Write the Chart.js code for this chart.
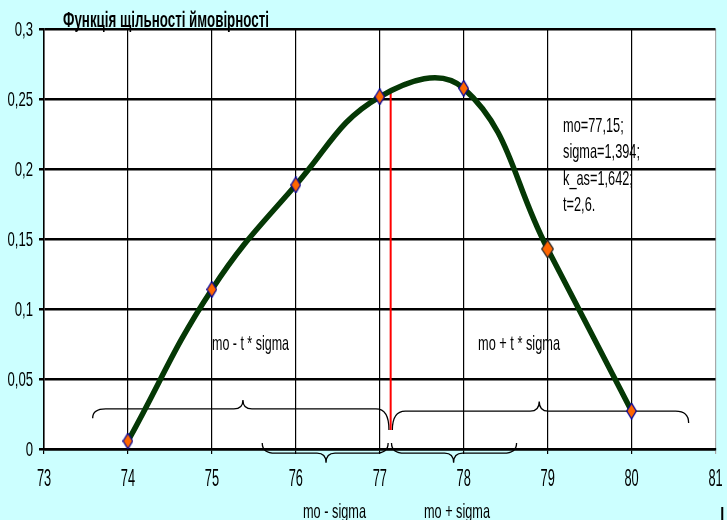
<!DOCTYPE html>
<html><head><meta charset="utf-8">
<script src="https://cdn.jsdelivr.net/npm/chart.js@4.4.0/dist/chart.umd.min.js"></script>
<style>html,body{margin:0;padding:0;background:#ccffff;}canvas{display:block;}</style>
</head><body>
<canvas id="c" width="727" height="520"></canvas>
<script>
// ---- data ----
const xCategories = [74, 75, 76, 77, 78, 79, 80];
const densityValues = [0.0057, 0.114, 0.1886, 0.2516, 0.2576, 0.1429, 0.0271];
const modeLineX = [77.13, 77.13];
const modeLineY = [0.257, 0.0136];
const xTickValues = [73, 74, 75, 76, 77, 78, 79, 80, 81];
const xTickLabels = ['73', '74', '75', '76', '77', '78', '79', '80', '81'];
const yTickValues = [0, 0.05, 0.1, 0.15, 0.2, 0.25, 0.3];
const yTickLabels = ['0', '0,05', '0,1', '0,15', '0,2', '0,25', '0,3'];
const titleText = 'Функція щільності ймовірності';
const paramLines = ['mo=77,15;', 'sigma=1,394;', 'k_as=1,642;', 't=2,6.'];
const innerLabels = ['mo - t * sigma', 'mo + t * sigma'];
const outerLabels = ['mo - sigma', 'mo + sigma'];
// braces (data units): start, end, tip x, line level, tip level, end levels
const braceStart = [73.58, 77.15, 75.6, 77.14];
const braceEnd   = [77.11, 80.68, 77.1, 78.63];
const braceTip   = [75.37, 78.9, 76.36, 77.88];
const braceLine  = [0.0286, 0.0271, -0.003, -0.003];
const braceTipY  = [0.035, 0.034, -0.0098, -0.0098];
const braceEndA  = [0.022, 0.0136, 0.0043, 0.0043];
const braceEndB  = [0.0136, 0.0186, 0.0043, 0.0043];

function makeDiamond(w, h, fill, stroke) {
  const c = document.createElement('canvas');
  c.width = w; c.height = h;
  const g = c.getContext('2d');
  g.beginPath();
  g.moveTo(w / 2, 0.7); g.lineTo(w - 0.7, h / 2); g.lineTo(w / 2, h - 0.7); g.lineTo(0.7, h / 2);
  g.closePath();
  g.fillStyle = fill; g.fill();
  g.lineWidth = 1.3; g.strokeStyle = stroke; g.stroke();
  return c;
}
const dia = makeDiamond(11, 17, '#ff6600', '#000099');
const diaBig = makeDiamond(13, 19, '#ff6600', '#222222');
const pointStyles = xCategories.map((v, i) => i === 5 ? diaBig : dia);

function drawStretched(ctx, text, x, y, o) {
  ctx.save();
  ctx.font = o.font;
  let sx = o.sx || 1;
  if (o.width) sx = o.width / ctx.measureText(text).width;
  ctx.translate(x, y);
  ctx.scale(sx, o.sy || 1);
  ctx.textAlign = o.align || 'left';
  ctx.textBaseline = 'alphabetic';
  ctx.fillStyle = o.color || '#000';
  ctx.fillText(text, 0, 0);
  ctx.restore();
}

const decor = {
  id: 'decor',
  beforeDraw(chart) {
    const { ctx, chartArea: a } = chart;
    ctx.save();
    ctx.fillStyle = '#ccffff';
    ctx.fillRect(0, 0, chart.width, chart.height);
    ctx.fillStyle = '#ffffff';
    ctx.fillRect(a.left, a.top, a.right - a.left, a.bottom - a.top);
    ctx.restore();
  },
  beforeDatasetsDraw(chart) {
    const { ctx } = chart;
    const xs = chart.scales.x, ys = chart.scales.y;
    ctx.save();
    ctx.strokeStyle = '#000';
    ctx.lineWidth = 1.3;
    for (let i = 0; i < braceStart.length; i++) {
      const x0 = xs.getPixelForValue(braceStart[i]);
      const x1 = xs.getPixelForValue(braceEnd[i]);
      const xt = xs.getPixelForValue(braceTip[i]);
      const yl = ys.getPixelForValue(braceLine[i]);
      const yt = ys.getPixelForValue(braceTipY[i]);
      const ya = ys.getPixelForValue(braceEndA[i]);
      const yb = ys.getPixelForValue(braceEndB[i]);
      const r = 13, rt = 9;
      ctx.beginPath();
      ctx.moveTo(x0, ya);
      ctx.quadraticCurveTo(x0, yl, x0 + r, yl);
      ctx.lineTo(xt - rt, yl);
      ctx.quadraticCurveTo(xt, yl, xt, yt);
      ctx.quadraticCurveTo(xt, yl, xt + rt, yl);
      ctx.lineTo(x1 - r, yl);
      ctx.quadraticCurveTo(x1, yl, x1, yb);
      ctx.stroke();
    }
    ctx.restore();
  },
  afterDraw(chart) {
    const { ctx } = chart;
    const xs = chart.scales.x, ys = chart.scales.y;
    const f = '16px "Liberation Sans", Arial, sans-serif';
    xs.ticks.forEach(t => {
      drawStretched(ctx, t.label, xs.getPixelForValue(t.value), 486, { font: f, sx: 0.8, sy: 1.52, align: 'center' });
    });
    ys.ticks.forEach(t => {
      drawStretched(ctx, t.label, 33, ys.getPixelForValue(t.value) + 7, { font: f, sx: 0.82, sy: 1.25, align: 'right' });
    });
    drawStretched(ctx, titleText, 63, 27, { font: 'bold 16px "Liberation Sans", Arial, sans-serif', width: 206, sy: 1.36 });
    // parameter box
    ctx.save(); ctx.font = f;
    const sxP = 77 / ctx.measureText(paramLines[1]).width;
    ctx.restore();
    const baselines = [132, 158, 185, 211];
    paramLines.forEach((s, i) => drawStretched(ctx, s, 563, baselines[i], { font: f, sx: sxP, sy: 1.3 }));
    drawStretched(ctx, innerLabels[0], 212, 350, { font: f, width: 77, sy: 1.32 });
    drawStretched(ctx, innerLabels[1], 478, 350, { font: f, width: 82, sy: 1.32 });
    drawStretched(ctx, outerLabels[0], 303, 518, { font: f, width: 63, sy: 1.32 });
    drawStretched(ctx, outerLabels[1], 424, 518, { font: f, width: 66, sy: 1.32 });
    drawStretched(ctx, '|', 720, 520, { font: 'bold 16px "Liberation Sans", Arial, sans-serif', sy: 1.2 });
  }
};

new Chart(document.getElementById('c'), {
  type: 'line',
  data: {
    datasets: [
      {
        data: xCategories.map((x, i) => ({ x: x, y: densityValues[i] })),
        borderColor: '#053805',
        borderWidth: 5.5,
        tension: 0.42,
        cubicInterpolationMode: 'default',
        pointStyle: pointStyles,
        pointRadius: 6,
        fill: false
      },
      {
        data: modeLineX.map((x, i) => ({ x: x, y: modeLineY[i] })),
        borderColor: '#ff0000',
        borderWidth: 2,
        tension: 0,
        pointRadius: 0,
        fill: false
      }
    ]
  },
  options: {
    responsive: false,
    animation: false,
    events: [],
    layout: { padding: { top: 29, right: 11, left: 0, bottom: 0 } },
    plugins: { legend: { display: false }, title: { display: false }, tooltip: { enabled: false } },
    scales: {
      x: {
        type: 'linear', min: 73, max: 81,
        afterBuildTicks: s => { s.ticks = xTickValues.map(v => ({ value: v })); },
        ticks: { display: false, callback: (v) => xTickLabels[xTickValues.indexOf(v)] },
        grid: {
          color: c => (c.tick && c.tick.value === 81) ? '#a8a8a8' : '#000000',
          lineWidth: 1.2, tickLength: 5, drawTicks: true
        },
        border: { display: true, color: '#000', width: 2.5 },
        afterFit: s => { s.height = 71; s.paddingLeft = 0; s.paddingRight = 0; }
      },
      y: {
        type: 'linear', min: 0, max: 0.3,
        afterBuildTicks: s => { s.ticks = yTickValues.map(v => ({ value: v })); },
        ticks: { display: false, callback: (v) => yTickLabels[yTickValues.indexOf(v)] },
        grid: { color: '#000000', lineWidth: 2.5, tickLength: 5, drawTicks: true },
        border: { display: true, color: '#000', width: 1.5 },
        afterFit: s => { s.width = 44; s.paddingTop = 0; s.paddingBottom = 0; }
      }
    }
  },
  plugins: [decor]
});
</script>
</body></html>
